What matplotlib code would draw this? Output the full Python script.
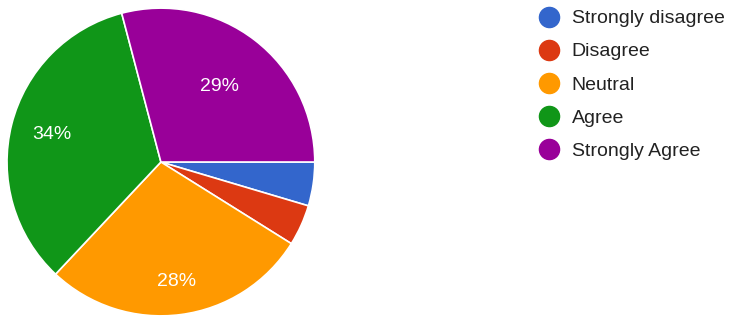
import numpy as np
import matplotlib.pyplot as plt
from matplotlib.lines import Line2D

plt.rcParams['font.family'] = ['Liberation Sans', 'DejaVu Sans']

categorias = ['Strongly disagree', 'Disagree', 'Neutral', 'Agree', 'Strongly Agree']
percentuais = [4.6, 4.3, 28.1, 33.9, 29.1]
cores = ['#3366cc', '#dc3912', '#ff9900', '#109618', '#990099']
dist_rotulo = [0.7, 0.7, 0.78, 0.73, 0.62]


def rotulo(p):
    return '%d%%' % round(p) if p >= 10 else ''


fig = plt.figure(figsize=(7.31, 3.2), dpi=100)
ax = fig.add_axes([0.0096, 0.0125, 0.421, 0.9625])
fatias, textos, auto = ax.pie(percentuais, colors=cores, startangle=0, counterclock=False,
                              autopct=rotulo, pctdistance=0.72,
                              wedgeprops=dict(edgecolor='white', linewidth=1.2),
                              textprops=dict(color='white', fontsize=14))
# reposiciona os rotulos de porcentagem
for w, t, d in zip(fatias, auto, dist_rotulo):
    ang = np.deg2rad((w.theta1 + w.theta2) / 2)
    t.set_position((d * np.cos(ang), d * np.sin(ang)))
ax.set_xlim(-1, 1)
ax.set_ylim(-1, 1)
ax.set_aspect('equal')

# legenda a direita com marcadores redondos
marcadores = [Line2D([], [], marker='o', linestyle='', markersize=14.5, color=c) for c in cores]
leg = fig.legend(marcadores, categorias, loc='upper left', bbox_to_anchor=(0.725, 1.0),
                 frameon=False, fontsize=14, handlelength=1.0, handletextpad=0.65,
                 labelspacing=0.8, labelcolor='#222222', borderpad=0.0)
plt.savefig('out.png')
